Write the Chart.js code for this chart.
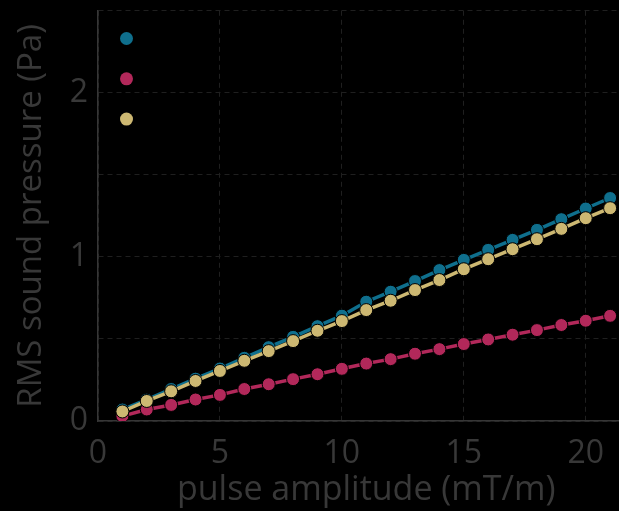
<!DOCTYPE html>
<html>
<head>
<meta charset="utf-8">
<script src="https://cdn.jsdelivr.net/npm/chart.js@4/dist/chart.umd.min.js"></script>
<style>
  html, body { margin: 0; padding: 0; background: #000; overflow: hidden; }
</style>
</head>
<body>
<canvas id="pressureChart" width="642" height="511"></canvas>
<script>
// pulse amplitude in mT/m
const amplitudes = [1, 2, 3, 4, 5, 6, 7, 8, 9, 10, 11, 12, 13, 14, 15, 16, 17, 18, 19, 20, 21];

// RMS sound pressure (Pa) per gradient axis
const pressureA = [0.07, 0.13, 0.195, 0.258, 0.32, 0.385, 0.45, 0.513, 0.578, 0.642, 0.727, 0.788, 0.853, 0.92, 0.982, 1.043, 1.104, 1.165, 1.23, 1.295, 1.359];
const pressureB = [0.03, 0.07, 0.098, 0.131, 0.159, 0.195, 0.224, 0.255, 0.285, 0.318, 0.35, 0.377, 0.41, 0.438, 0.469, 0.497, 0.526, 0.554, 0.585, 0.611, 0.641];
const pressureC = [0.058, 0.122, 0.181, 0.244, 0.305, 0.367, 0.426, 0.487, 0.55, 0.609, 0.676, 0.733, 0.798, 0.859, 0.925, 0.986, 1.047, 1.108, 1.171, 1.236, 1.297];

const seriesNames = ['x', 'y', 'z'];
const seriesColors = ['#0f6f8d', '#b2285a', '#cdb872'];

const xTickLabels = [0, 5, 10, 15, 20];
const yTickLabels = [0, 1, 2];

const textColor = '#383838';
const axisColor = '#363636';
const gridColor = '#1f1f1f';
const family = '"Open Sans", "Noto Sans", sans-serif';
const tickFont = { family: family, size: 32 };

function makeSeries(label, values, color, order) {
    return {
        label: label,
        data: amplitudes.map((a, i) => ({ x: a, y: values[i] })),
        borderColor: color,
        backgroundColor: color,
        borderWidth: 3.5,
        pointRadius: 6.5,
        pointBorderColor: '#000',
        pointBorderWidth: 1,
        pointBackgroundColor: color,
        order: order
    };
}

// markers only, stacked in the top-left corner of the plot
const cornerLegend = {
    id: 'cornerLegend',
    afterDraw(chart) {
        const { ctx, chartArea } = chart;
        ctx.save();
        chart.data.datasets.forEach((ds, i) => {
            ctx.beginPath();
            ctx.arc(chartArea.left + 28.5, chartArea.top + 27.7 + i * 40.3, 6.5, 0, Math.PI * 2);
            ctx.fillStyle = ds.borderColor;
            ctx.fill();
        });
        ctx.restore();
    }
};

const ctx = document.getElementById('pressureChart').getContext('2d');

new Chart(ctx, {
    type: 'line',
    data: {
        datasets: [
            makeSeries(seriesNames[0], pressureA, seriesColors[0], 3),
            makeSeries(seriesNames[1], pressureB, seriesColors[1], 2),
            makeSeries(seriesNames[2], pressureC, seriesColors[2], 1)
        ]
    },
    options: {
        responsive: false,
        animation: false,
        layout: { padding: { top: 10, right: 0, left: 0, bottom: 0 } },
        plugins: {
            legend: { display: false },
            tooltip: { enabled: false }
        },
        scales: {
            x: {
                type: 'linear',
                min: 0,
                max: 22,
                border: { color: axisColor, width: 1.5, dash: [5, 4] },
                grid: {
                    color: gridColor,
                    lineWidth: 1,
                    drawTicks: false
                },
                afterBuildTicks(scale) {
                    scale.ticks = xTickLabels.map(v => ({ value: v }));
                },
                ticks: {
                    color: textColor,
                    font: tickFont,
                    padding: 14,
                    maxRotation: 0,
                    autoSkip: false
                },
                title: {
                    display: true,
                    text: 'pulse amplitude (mT/m)',
                    color: textColor,
                    font: { family: family, size: 34 },
                    padding: 0
                },
                afterFit(scale) { scale.height = 90; }
            },
            y: {
                min: 0,
                max: 2.5,
                border: { color: axisColor, width: 1.5, dash: [5, 4] },
                grid: {
                    color: gridColor,
                    lineWidth: 1,
                    drawTicks: false
                },
                ticks: {
                    stepSize: 0.5,
                    color: textColor,
                    // tiny line height keeps the top label from padding the plot
                    font: { family: family, size: 32, lineHeight: 0.05 },
                    padding: 10,
                    callback: v => yTickLabels.includes(v) ? String(v) : ''
                },
                title: {
                    display: true,
                    text: 'RMS sound pressure (Pa)',
                    color: textColor,
                    font: { family: family, size: 33 },
                    padding: { top: 12, bottom: 0 }
                },
                afterFit(scale) { scale.width = 98; }
            }
        }
    },
    plugins: [cornerLegend]
});
</script>
</body>
</html>
